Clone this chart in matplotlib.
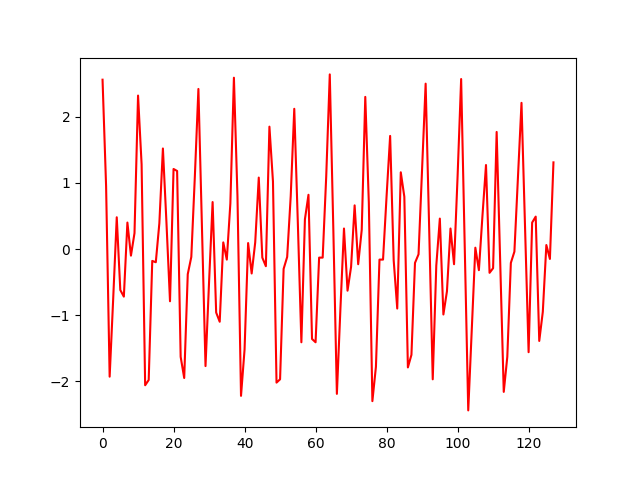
import matplotlib
matplotlib.use("Agg")
import matplotlib.pyplot as plt

# values, index 0..127
values = [
    2.56, 0.95, -1.93, -0.75, 0.48, -0.62, -0.72, 0.40, -0.10, 0.24,
    2.32, 1.28, -2.06, -1.98, -0.18, -0.20, 0.39, 1.52, 0.40, -0.79,
    1.21, 1.18, -1.63, -1.95, -0.38, -0.12, 1.10, 2.42, 0.30, -1.77,
    -0.50, 0.71, -0.96, -1.10, 0.10, -0.16, 0.69, 2.59, 0.80, -2.22,
    -1.52, 0.09, -0.37, 0.10, 1.08, -0.13, -0.26, 1.85, 1.02, -2.02,
    -1.97, -0.30, -0.12, 0.80, 2.12, 0.40, -1.41, 0.45, 0.82, -1.36,
    -1.41, -0.13, -0.13, 1.10, 2.64, 0.30, -2.19, -0.90, 0.31, -0.63,
    -0.27, 0.66, -0.23, 0.29, 2.30, 0.70, -2.30, -1.78, -0.16, -0.16,
    0.80, 1.71, -0.17, -0.90, 1.16, 0.79, -1.79, -1.60, -0.21, -0.08,
    1.20, 2.50, 0.30, -1.97, -0.25, 0.46, -0.99, -0.64, 0.31, -0.23,
    1.10, 2.57, 0.10, -2.44, -1.20, 0.02, -0.32, 0.50, 1.27, -0.36,
    -0.29, 1.77, -0.20, -2.16, -1.63, -0.21, -0.04, 1.10, 2.21, 0.30,
    -1.56, 0.40, 0.49, -1.39, -0.95, 0.06, -0.15, 1.31,
]

fig = plt.figure(figsize=(6.4, 4.8), dpi=100)
plt.plot(values, color='red')
plt.savefig("out.png")
